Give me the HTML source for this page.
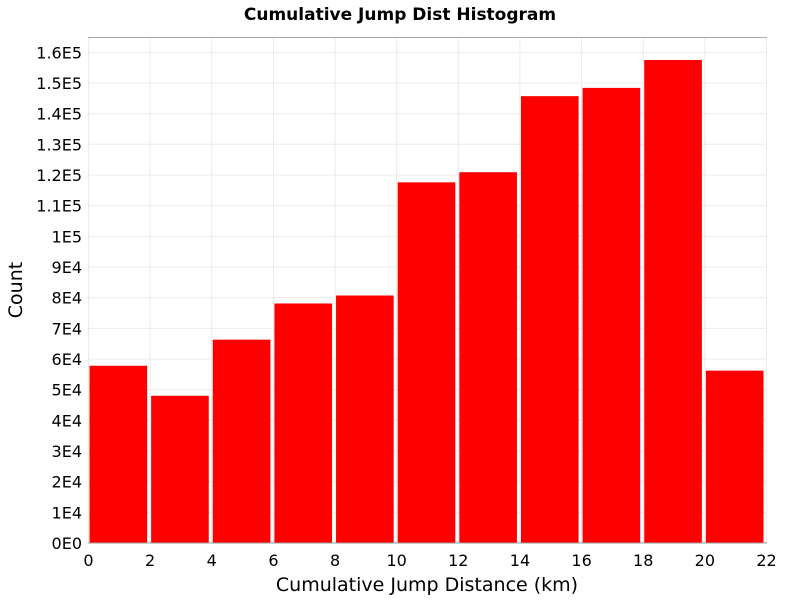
<!DOCTYPE html>
<html><head><meta charset="utf-8"><style>
body{margin:0;background:#fff;font-family:"DejaVu Sans","Liberation Sans",sans-serif;}
</style></head><body>
<svg id="chart" width="800" height="600" xmlns="http://www.w3.org/2000/svg" font-family="DejaVu Sans, Liberation Sans, sans-serif">
<text x="400" y="20" text-anchor="middle" font-size="17" font-weight="bold">Cumulative Jump Dist Histogram</text>
<rect x="88.5" y="37.5" width="678" height="505.5" fill="#fff" stroke="#aaa"/>
<g id="grid"></g><g id="bars"></g><g id="axes"></g>
<text x="427" y="591" text-anchor="middle" font-size="19">Cumulative Jump Distance (km)</text>
<text transform="translate(22,290) rotate(-90)" text-anchor="middle" font-size="19">Count</text>
</svg>
<script>
const binStarts=[0,2,4,6,8,10,12,14,16,18,20];
const counts=[57800,48000,66300,78100,80700,117600,120900,145700,148400,157500,56200];
const xTicks=[0,2,4,6,8,10,12,14,16,18,20,22];
const yTicks=[0,10000,20000,30000,40000,50000,60000,70000,80000,90000,100000,110000,120000,130000,140000,150000,160000];
const yLabels=["0E0","1E4","2E4","3E4","4E4","5E4","6E4","7E4","8E4","9E4","1E5","1.1E5","1.2E5","1.3E5","1.4E5","1.5E5","1.6E5"];
const NS="http://www.w3.org/2000/svg";
const X=v=>88.5+v*(678/22);
const Y=v=>543-v*(490.7/160000);
const grid=document.getElementById('grid'),bars=document.getElementById('bars'),axes=document.getElementById('axes');
function mk(tag,attrs,parent){const e=document.createElementNS(NS,tag);for(const k in attrs)e.setAttribute(k,attrs[k]);parent.appendChild(e);return e;}
yTicks.forEach((t,i)=>{
  const l=mk('line',{x1:89,x2:766,y1:Y(t),y2:Y(t),stroke:'#ebebeb'},grid);
  
  
  const tx=mk('text',{x:82,y:Y(t)+6,'text-anchor':'end','font-size':'16'},axes);
  tx.textContent=yLabels[i];
  
  
});
xTicks.forEach(t=>{
  const l=mk('line',{x1:X(t),x2:X(t),y1:38,y2:543,stroke:'#ebebeb'},grid);
  
  
  const tx=mk('text',{x:X(t),y:566,'text-anchor':'middle','font-size':'16'},axes);
  tx.textContent=t;
  
  
});
binStarts.forEach((b,i)=>{
  const x0=X(b)+1,x1=X(b+2)-3;
  const r=mk('rect',{x:x0,y:Y(counts[i]),width:x1-x0,height:543-Y(counts[i]),fill:'#ff0000'},bars);
  
  
});
const ax=mk('line',{x1:88.5,x2:767,y1:543,y2:543,stroke:'#999'},axes);


</script>
</body></html>
